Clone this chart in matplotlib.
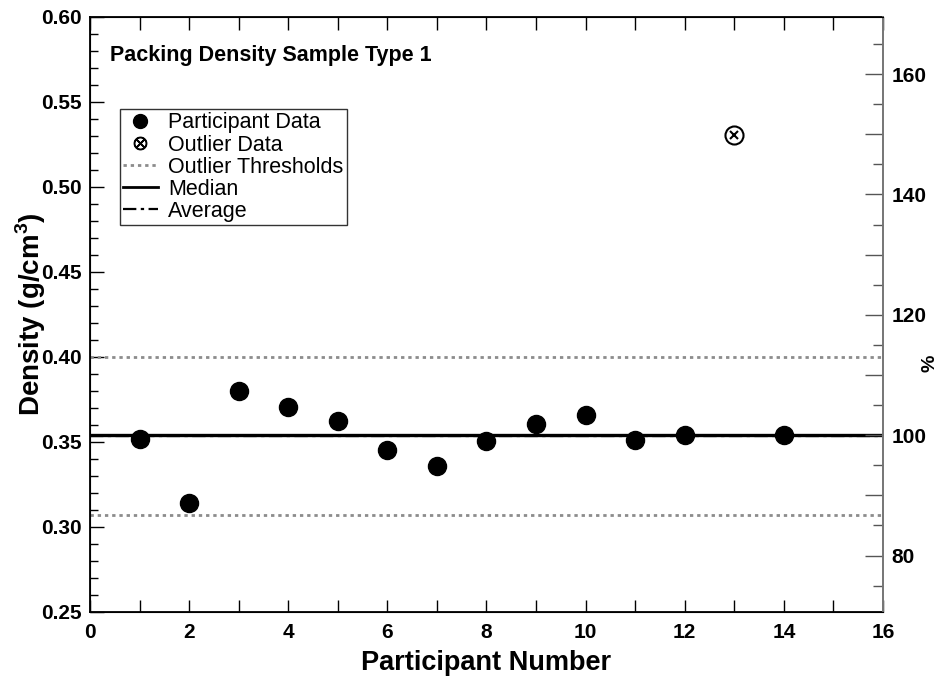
import numpy as np
import matplotlib
matplotlib.use("Agg")
import matplotlib.pyplot as plt
from matplotlib.ticker import MultipleLocator, FuncFormatter
from matplotlib.lines import Line2D

plt.rcParams['font.family'] = ['Liberation Sans', 'DejaVu Sans']
plt.rcParams['mathtext.fontset'] = 'custom'
plt.rcParams['mathtext.rm'] = 'Liberation Sans'
plt.rcParams['mathtext.bf'] = 'Liberation Sans:bold'

# participant values
participants = [1, 2, 3, 4, 5, 6, 7, 8, 9, 10, 11, 12, 14]
density = [0.352, 0.314, 0.380, 0.3705, 0.3622, 0.3450, 0.3360, 0.3503,
           0.3603, 0.3657, 0.3510, 0.3542, 0.3542]
outlier_x = [13]
outlier_y = [0.5305]
median = 0.3540
average = 0.3535
thresholds = [0.4000, 0.3071]

fig = plt.figure(figsize=(9.39, 6.79), dpi=100)
ax = fig.add_axes([0.0958, 0.0987, 0.8446, 0.8763])

ax.axhline(median, color='black', lw=2.4, zorder=2)
ax.axhline(average, color='black', lw=1.6, ls=(0, (6, 2, 1.5, 2)), zorder=2)
for t in thresholds:
    ax.axhline(t, color='#8c8c8c', lw=2, ls=(0, (1.2, 1.4)), zorder=2)

ax.plot(participants, density, 'o', color='black', ms=13, zorder=3)
ax.plot(outlier_x, outlier_y, 'o', mfc='white', mec='black', mew=1.5, ms=13, zorder=3)
ax.plot(outlier_x, outlier_y, 'x', color='black', mew=1.5, ms=6, zorder=4)

ax.set_xlim(0, 16)
ax.set_ylim(0.25, 0.60)
ax.xaxis.set_major_locator(MultipleLocator(2))
ax.xaxis.set_minor_locator(MultipleLocator(1))
ax.yaxis.set_major_locator(MultipleLocator(0.05))
ax.yaxis.set_minor_locator(MultipleLocator(0.01))
ax.yaxis.set_major_formatter(FuncFormatter(lambda v, p: f"{v:.2f}"))
ax.tick_params(axis='x', which='both', direction='in', top=True, length=9, width=1,
               labelsize=15, pad=8)
ax.tick_params(axis='y', which='major', direction='in', length=10, width=1,
               labelsize=15, pad=6)
ax.tick_params(axis='y', which='minor', direction='in', length=6, width=1)
for lab in ax.get_xticklabels() + ax.get_yticklabels():
    lab.set_fontweight('bold')
for s in ['left', 'bottom', 'top']:
    ax.spines[s].set_linewidth(1.3)
ax.spines['right'].set_color('#777777')
ax.spines['right'].set_linewidth(1.3)

ax.set_xlabel('Participant Number', fontsize=19.5, fontweight='bold', labelpad=6)
ax.set_ylabel(r'Density (g/cm$^{\mathbf{3}}$)', fontsize=20, fontweight='bold')
ax.yaxis.set_label_coords(-0.0534, 0.5)

ax.text(0.025, 0.935, 'Packing Density Sample Type 1', transform=ax.transAxes,
        fontsize=15.5, fontweight='bold', va='center')

# right axis in percent of median
ax2 = ax.twinx()
ax2.set_ylim(0.25 / median * 100, 0.60 / median * 100)
ax2.yaxis.set_major_locator(MultipleLocator(10))
ax2.yaxis.set_minor_locator(MultipleLocator(5))
ax2.yaxis.set_major_formatter(FuncFormatter(lambda v, p: f"{v:.0f}" if round(v) % 20 == 0 else ""))
ax2.tick_params(axis='y', which='major', direction='in', length=13, width=1,
                labelsize=15, pad=6, color='#555555')
ax2.tick_params(axis='y', which='minor', direction='in', length=7, width=1, color='#555555')
for lab in ax2.get_yticklabels():
    lab.set_fontweight('bold')
ax2.spines['right'].set_color('#777777')
ax2.spines['right'].set_linewidth(1.3)
ax2.set_ylabel('%', fontsize=14, fontweight='bold', va='center')
ax2.yaxis.set_label_coords(1.0 + 47 / 793, 0.418)

handles = [
    Line2D([], [], ls='', marker='o', color='black', ms=10),
    Line2D([], [], ls='', marker='$\\otimes$', color='black', ms=9),
    Line2D([], [], color='#8c8c8c', lw=2, ls=(0, (1.2, 1.4))),
    Line2D([], [], color='black', lw=2),
    Line2D([], [], color='black', lw=1.6, ls=(0, (6, 2, 1.5, 2))),
]
labels = ['Participant Data', 'Outlier Data', 'Outlier Thresholds', 'Median', 'Average']
leg = ax.legend(handles, labels, loc='upper left', bbox_to_anchor=(0.0378, 0.845),
                fontsize=15.5, frameon=True, fancybox=False, edgecolor='black',
                handlelength=1.6, handletextpad=0.5, labelspacing=0.05,
                borderpad=0.15, borderaxespad=0)
leg.get_frame().set_linewidth(1.0)

fig.savefig('out.png', dpi=100)
